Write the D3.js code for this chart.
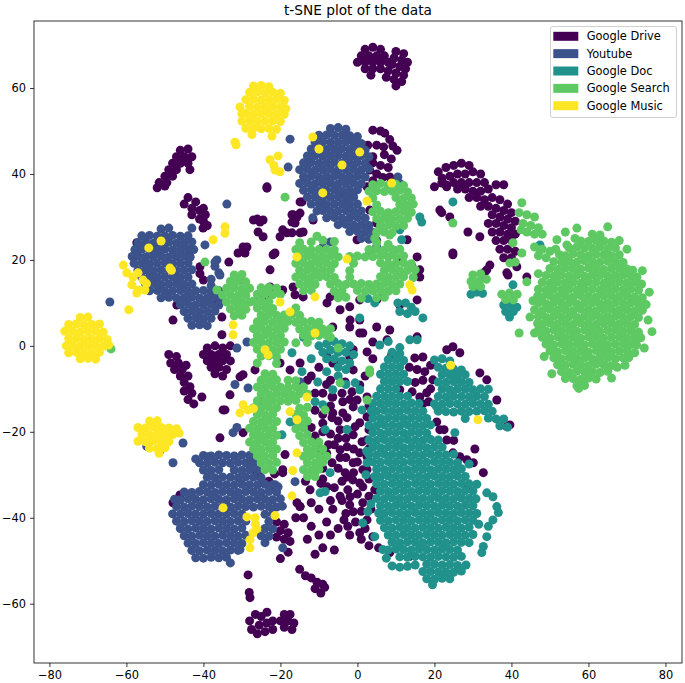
<!DOCTYPE html>
<html>
<head>
<meta charset="utf-8">
<script src="https://cdn.jsdelivr.net/npm/d3@7"></script>
<style>
  body { margin: 0; background: #fff; }
  text { font-family: "DejaVu Sans", sans-serif; }
</style>
</head>
<body>
<div id="chart"></div>
<script>
// Class names and viridis colours, in legend order.
var categories = ["Google Drive", "Youtube", "Google Doc", "Google Search", "Google Music"];
var colors = ["#440154", "#3b528b", "#21918c", "#5ec962", "#fde725"];

var xTicks = [-80, -60, -40, -20, 0, 20, 40, 60, 80];
var yTicks = [-60, -40, -20, 0, 20, 40, 60];

// Points, [x, y] in t-SNE units.
var drivePoints = [
  // two clumps at the top
  [2,69],[4,69.5],[6,69],[1,67.5],[3,67.5],[5,67.5],[7,67.5],[0,66],[2,66],[4,66],[6,66],[8,66],[2,64.5],[4,64.5],[6,64.5],[3.5,63],
  [10,68.5],[12,68],[9.5,67],[11.5,66.5],[13,66],[9,65.5],[11,65],[12.5,64.5],[8,64],[10,63.5],[12,63],[7.5,62.5],[9.5,62],[11.5,61.5],[10,60.5],
  // upper left clumps
  [-46,45.5],[-44,45.8],[-43,44],[-45,44],[-47,44],[-44,42.5],[-46,42.5],[-48,42.5],[-43.5,41],[-47,41],[-49,41],[-50,39.5],[-48,39.5],[-51.5,38],[-49.5,38],[-52,36.8],[-50,37.2],
  [-44,34.5],[-42,33.5],[-45,33],[-43,32],[-41,31.5],[-39.5,30.5],[-41,29.5],[-43,30.5],[-40,29],[-39.5,27.8],
  // right clump
  [21,40.5],[23,41.5],[25,42],[27,42.5],[29,42],[22,39],[24,39.5],[26,40],[28,40],[30,40.5],[32,40],[23,37.5],[25,38],[27,38],[29,38],[31,38],[33,38],
  [26,36.5],[28,36.5],[30,36],[32,36],[34,36.5],[36,37.5],[38,37.5],[29,34.5],[31,34.5],[33,34],[35,34.5],[37,34],[39,33],[32,32.5],[34,32.5],[36,32],[38,31.5],[40,31],
  [35,30.5],[37,30],[39,29.5],[41,29],[34,28.5],[36,28.5],[38,28],[40,27.5],[35,26.5],[37,26.5],[39,26],[41,26],[36,24.5],[38,24.5],[40,24.5],[37,22.5],[39,22.5],[41,22],
  [38,20.5],[40,20.5],[34.4,18.8],[33.1,17.2],[39.1,16.5],[41.4,18.4],[44,16],[24.8,21.2],[28.7,26.5],[31.8,25.4],[21.9,31],[24,30],[20,37],[21.9,37.9],[23.2,37],[33.6,17.7],[38.8,17],
  // column beside the top youtube group
  [4,50.2],[6,50],[7.1,49.5],[8.4,48],[9.2,46.5],[10.3,45.5],[2.7,46.7],[5,46.7],[6.8,46.3],[4,44],[7,44.5],[8.8,43.5],[4,42.6],[6,42],[8,41.5],[3.2,40.9],[5,40],[6.6,39.2],[8.4,39.3],[4,38.4],[2.5,37],
  // upper middle scatter
  [-11.8,45.6],[-12.3,42.8],[-23.5,37],[-23.5,36.7],[-14.9,33.5],[-25.3,28.8],[-17,30.5],[-16.2,28.6],[-14.4,33.5],[-14.9,30.9],[-4,35.8],[-1.1,34.7],
  [-40,32],[-39,28],[-40.1,27.4],[-27,29.3],[-25.8,26.5],[-24.5,25.4],[-28.7,23],[-29.2,21.6],[-21.4,21.6],[-17,28.8],[-15.7,30],[-11.5,29.3],[-14.9,26.3],
  [-24.5,29.3],[-16.7,30.5],[-20.1,25.4],[-17,26.3],[-14.1,26.5],[-21.9,21.2],[-26,29.5],[-19.4,27],[-18.3,26.3],[-31,21.6],[-29.7,23],
  [-0.1,24.7],[5,28.6],[3.2,31.6],[11,20],[14.2,18.4],[16.2,16],[15.5,10.7],[5,10.7],[0.6,10.7],[-2,9.1],[-4.5,8.4],[-7.9,10],[-7.1,11.4],[-14.1,11.4],[-16.2,11.9],
  [-6.4,4.4],[-2,4.4],[0.6,6],[5,4.4],[-22.7,13.7],[-22.7,17.7],[-23.5,11.4],[-25.3,10.7],[-19.4,13],[-16.7,13.7],[12.9,24.7],[15.5,20.7],[16.2,17.7],
  [6.6,12.3],[11,9.5],[15.5,2.1],[8.4,3.7],[1.4,3],[-1.9,6],[21.4,31.6],[24.8,21.6],[32.7,16],
  // left side scatter
  [-43.5,20.7],[-40.9,18.4],[-40,15.3],[-40.9,16.8],[-33.4,19.5],[-30.5,15.3],[-35.2,6.7],[-47.9,6],[-46.9,9.5],[-57.3,24],[-36.2,10],[-35.2,2.6],
  // left clumps near y = 0
  [-39,-0.5],[-37,0],[-35,-0.5],[-33,0],[-40,-2],[-38,-2],[-36,-2],[-34,-2],[-39,-3.5],[-37,-3.5],[-35,-3.5],[-33,-3.5],[-38,-5],[-36,-5],[-34,-5.5],[-37,-6.5],[-35,-7],
  [-49,-2],[-47,-2.5],[-48.5,-4],[-46.5,-4],[-44.5,-4.5],[-47.5,-5.5],[-45.5,-5.5],[-46,-7],[-44,-7],[-45,-8.5],[-43.5,-9.5],[-45,-10.5],[-43,-11],[-44,-12.5],[-42.5,-13.5],
  // centre scatter
  [-30.5,-7.2],[-33.1,-11.4],[-34.9,-14.9],[-29.7,-6.7],[-26.6,-5.6],[-20.1,-4],[-17.5,-5.6],[-14.9,-4],[-6.4,-4],[-1.4,-10.7],[-0.1,-12.6],[-3.8,-15.6],[-0.6,-18.8],
  [2.5,-16.5],[-6.6,-16.7],[-2.7,-19.5],[1.2,-22.3],[-4.5,-24.2],[-6.6,-27.2],[-3.2,-29.5],[-1.2,-31.2],[1.4,-32.8],[-7.9,-32.8],[-12.3,-33.5],[-21.9,-32.8],
  [-24.5,-31.9],[-26.1,-29.5],[-27.1,-27.2],[-18.8,-25.3],[-19.4,-28.8],[-29.7,-20.2],[-6.4,-11.9],[1.4,-28.8],[2.5,-25.8],[-40.4,-11.9],[-34.4,-14.9],[-35.7,-21.4],
  [0.6,3],[4,0.9],[2.5,-1.4],[-1.1,-0.9],[-5.3,-4],[-1.1,-5.6],[-3.2,-8.4],[0.6,-9.1],[-6.6,-11.9],[-3.8,-13],[-1.1,-14.2],[2.5,-11.9],[-6.4,-15.6],[-2.7,-16.7],
  [0.6,-17.9],[-4.5,-19.5],[-1.1,-20.7],[2.5,-21.9],[-2.7,-23.5],[0.6,-24.9],[-4.5,-26],[-1.1,-27.2],[2.5,-28.8],[-2.7,-30.5],[0.6,-31.9],[-1.9,-35.1],[1.4,-36.5],
  [-1.1,-38.6],[2.5,-40.5],[0.6,-43.5],[4,-44.4],[8.4,-48.1],[13.6,-49],[4.5,-33.5],[-4,-36],[-6.4,-38],[-3.5,-40.5],[-5,-42.5],[-2,-44],[-15.7,-36.5],[-14.9,-37.4],
  [-9,-20],[-10,-24],[-8,-9],[-11,-11],[-13,-8],[-9,-16],[-12,-19],[-5,-21.5],[-7.5,-23],[-9,-31],[-11,-29],[-13.5,-31.5],
  [-8,-2],[-10,-5],[-12,-7],[-7,-8],[-9,-11],[-4,-11],[-2,-12.5],[-11,-15],[-7,-14],[-5,-17.5],[-9,-18],[-11,-21],[-7,-20.5],[-3,-21.5],[-6,-23],[-1,-24],
  [-8,-25],[-3,-26],[0,-27],[-5,-28.5],[-9,-28.5],[-1,-29.5],[-4,-31.5],[-6,-33],[-9.5,-32],[-2.5,-33.5],[0,-34.5],[-4.5,-35],[-7,-36],[-2,-37],[1,-38.5],
  [-3,-39],[-0.5,-41],[-2.5,-42],[1,-45],[3,-46.5],[5.5,-47],[2,-42.5],[3,-31],[3,-35],[3.5,-38],[3,-24],[3,-19.5],[3,-14],[2,-7],[4,-3],[-2,-2.5],
  [13.5,-5],[15.5,-5.5],[17.5,-6],[19,-4.5],[15,-8.5],[17,-8],[19,-10],[18.5,-13],[17,-13.5],
  [-14,-40],[-12,-42],[-10,-44],[-13,-45],[-8,-41],[-10,-38],[-12,-36.5],[-7,-44],[-9,-47],[-6,-47.5],[-11,-48.5],[-18,-48],[-20,-49.5],
  [11,-10.2],[14.2,-10.7],[16.2,-11.9],[18,-10.9],[19.6,-7.9],[17,-2.6],[14.9,-2.8],[8.9,-2.1],[7.7,1.4],[23.2,-0.9],[24.8,-0.2],[26.6,-1.6],
  [31.8,-6.3],[33.6,-7.9],[36.2,-12.6],[39.6,-18.4],[38.8,-18.8],[20.6,-17.7],[21.4,-19.5],[23.2,-21.9],[24.8,-24.9],[26.6,-25.8],[28.4,-26.5],[30.1,-27.2],
  [32.7,-29.5],[28.4,-32.8],[22.5,-19.5],[25,-22],[30.5,-24],
  // lower left
  [-47.9,-36.5],[-46.1,-34.7],[-21,-41],[-19,-41.5],[-20,-43],[-18,-43.5],[-21,-44.5],[-19,-45],[-17.5,-45.5],
  [-25.3,-30.5],[-23,-31.5],[-21.5,-29.8],[-19.4,-29.5],[-14.9,-37.4],[-16,-40],
  [-15,-52],[-13.5,-53.5],[-12,-54],[-10.5,-55],[-9,-55.5],[-11,-56.5],[-9.5,-57.5],[-8.5,-56.2],
  [-28.4,-53.3],[-28.1,-57.4],[-27.9,-58.6],
  [-28,-64],[-26.5,-62.5],[-25,-63],[-23.5,-62],[-27.5,-66],[-25.5,-65],[-23.5,-64.5],[-22,-64],[-26,-67],[-24,-66.5],[-22,-66],
  [-19,-62.5],[-17.5,-62.5],[-20,-64],[-18,-64],[-16.5,-64.5],[-19,-65.5],[-17,-66]
];

var youtubePoints = [
  // top group
  [-7,50.6],[-5,50.8],[-3,50.4],
  [-10,49],[-8,49.1],[-6,49],[-4,49.1],[-2,48.9],[0,48.7],
  [-11,47.4],[-9,47.5],[-7,47.3],[-5,47.4],[-3,47.5],[-1,47.3],[1,47.1],
  [-12,45.8],[-10,45.9],[-8,45.7],[-6,45.8],[-4,45.9],[-2,45.7],[0,45.8],[2,45.6],
  [-13,44.2],[-11,44.3],[-9,44.1],[-7,44.2],[-5,44.3],[-3,44.1],[-1,44.2],[1,44.3],[3,44],
  [-14,42.6],[-12,42.7],[-10,42.5],[-8,42.6],[-6,42.7],[-4,42.5],[-2,42.6],[0,42.7],[2,42.5],
  [-15,41],[-13,41.1],[-11,40.9],[-9,41],[-7,41.1],[-5,40.9],[-3,41],[-1,41.1],[1,40.9],[3,41.2],
  [-14,39.4],[-12,39.5],[-10,39.3],[-8,39.4],[-6,39.5],[-4,39.3],[-2,39.4],[0,39.5],[2,39.3],
  [-15,37.8],[-13,37.9],[-11,37.7],[-9,37.8],[-7,37.9],[-5,37.7],[-3,37.8],[-1,37.9],[1,37.7],
  [-14,36.2],[-12,36.3],[-10,36.1],[-8,36.2],[-6,36.3],[-4,36.1],[-2,36.2],[0,36.3],
  [-13,34.6],[-11,34.7],[-9,34.5],[-7,34.6],[-5,34.7],[-3,34.5],[-1,34.6],
  [-12,33],[-10,33.1],[-8,32.9],[-6,33],[-4,33.1],[-2,32.9],[0,33],
  [-10.5,31.4],[-9,31.5],[-7,31.3],[-5,31.4],[-3,31.5],[-1,31.3],[1,31.4],
  [-8,29.8],[-6,29.9],[-4,29.7],[-2,29.8],[0,29.9],[2,29.7],
  [-5,28.2],[-3,28.3],[-1,28.1],[1,28.2],[3,28],
  [-2,26.6],[0,26.7],[2,26.5],[4,26.4],
  [1,25],[3,24.8],[5,24.6],
  [-18,41.6],[-17.5,48.1],[-11.6,29.8],[10.5,39.3],[11,37.8],[5,23],[3.2,21.6],[9.2,22.3],[-9,23],[-7,24.2],[2.5,27],
  // left group
  [-51,27.2],[-49,27.4],
  [-56,25.6],[-54,25.7],[-52,25.5],[-50,25.6],[-48,25.7],[-46,25.5],[-44,25.6],
  [-57,24],[-55,24.1],[-53,23.9],[-51,24],[-49,24.1],[-47,23.9],[-45,24],[-43,24.2],
  [-57.8,22.4],[-56,22.5],[-54,22.3],[-52,22.4],[-50,22.5],[-48,22.3],[-46,22.4],[-44,22.5],[-42.5,22.4],
  [-58.5,20.8],[-57,20.9],[-55,20.7],[-53,20.8],[-51,20.9],[-49,20.7],[-47,20.8],[-45,20.9],[-43.5,20.6],[-36.5,20],
  [-58,19.2],[-56,19.3],[-54,19.1],[-52,19.2],[-50,19.3],[-48,19.1],[-46,19.2],[-44,19.3],[-37,18.5],
  [-57,17.6],[-55,17.7],[-53,17.5],[-51,17.6],[-49,17.7],[-47,17.5],[-45,17.6],[-43,17.7],[-36,17],
  [-56,16],[-54,16.1],[-52,15.9],[-50,16],[-48,16.1],[-46,15.9],[-44,16],[-38,15.5],
  [-55,14.4],[-53,14.5],[-51,14.3],[-49,14.4],[-47,14.5],[-45,14.3],[-43,14.4],[-38,14],
  [-54,12.8],[-52,12.9],[-50,12.7],[-48,12.8],[-46,12.9],[-44,12.7],[-42,12.8],[-40,12.9],[-38,12.7],[-36,12.8],
  [-51,11.2],[-49,11.3],[-47,11.1],[-45,11.2],[-43,11.3],[-41,11.1],[-39,11.2],[-37,11.3],[-35.5,11],
  [-46,9.6],[-44,9.7],[-42,9.5],[-40,9.6],[-38,9.7],[-36,9.5],
  [-45,8],[-43,8.1],[-41,7.9],[-39,8],[-37,8.1],
  [-44,6.4],[-42,6.5],[-40,6.3],[-38,6.4],
  [-43,4.8],[-41,4.9],[-39,4.7],
  [-64.3,10.2],[-33.9,33],[-39.6,23.5],[-37,19.5],[-35.7,16.5],[-28.7,0.9],[-31.3,-0.5],[-31.8,-9],[-28.4,-9.8],[-14.9,-8.4],[-25.3,-13],[-14.9,-9.8],
  [-32.3,-20.2],[-31.3,-19],[-38.8,-25.8],[-16.2,-31.6],[-21.4,-32.3],[-43,27.4],[-9.7,34],
  // lower left group
  [-40,-25.5],[-38,-25.6],[-36,-25.4],[-34,-25.5],[-32,-25.6],[-30,-25.4],[-28,-25.5],
  [-41,-27.2],[-39,-27.3],[-37,-27.1],[-35,-27.2],[-33,-27.3],[-31,-27.1],[-29,-27.2],[-27,-27.3],
  [-40,-28.9],[-38,-29],[-36,-28.8],[-32,-28.9],[-30,-29],[-28,-28.8],[-26,-28.9],
  [-39,-30.6],[-37,-30.7],[-35,-30.5],[-33,-30.6],[-31,-30.7],[-29,-30.5],[-27,-30.6],[-25,-30.7],
  [-40,-32.3],[-38,-32.4],[-36,-32.2],[-34,-32.3],[-32,-32.4],[-30,-32.2],[-28,-32.3],[-26,-32.4],[-24,-32.2],[-22,-32.3],
  [-45,-34],[-43,-34.1],[-41,-33.9],[-39,-34],[-37,-34.1],[-35,-33.9],[-33,-34],[-31,-34.1],[-29,-33.9],[-27,-34],[-25,-34.1],[-23,-33.9],[-21,-34],
  [-47.5,-35.7],[-46,-35.8],[-44,-35.6],[-42,-35.7],[-40,-35.8],[-38,-35.6],[-36,-35.7],[-34,-35.8],[-32,-35.6],[-30,-35.7],[-28,-35.8],[-26,-35.6],[-24,-35.7],[-22,-35.8],[-20,-35.6],
  [-47,-37.4],[-45,-37.5],[-43,-37.3],[-41,-37.4],[-39,-37.5],[-37,-37.3],[-35,-37.4],[-33,-37.5],[-31,-37.3],[-29,-37.4],[-27,-37.5],[-25,-37.3],[-23,-37.4],[-21,-37.5],[-19.5,-37.3],
  [-48,-39.1],[-46,-39.2],[-44,-39],[-42,-39.1],[-40,-39.2],[-38,-39],[-36,-39.1],[-34,-39.2],[-32,-39],[-30,-39.1],[-24,-39.2],[-22,-39],
  [-47,-40.8],[-45,-40.9],[-43,-40.7],[-41,-40.8],[-39,-40.9],[-37,-40.7],[-35,-40.8],[-33,-40.9],[-31,-40.7],[-29,-40.8],[-23,-40.9],
  [-46,-42.5],[-44,-42.6],[-42,-42.4],[-40,-42.5],[-38,-42.6],[-36,-42.4],[-34,-42.5],[-32,-42.6],[-30,-42.4],[-24,-42.5],[-22,-42.6],
  [-45,-44.2],[-43,-44.3],[-41,-44.1],[-39,-44.2],[-37,-44.3],[-35,-44.1],[-33,-44.2],[-31,-44.3],[-29,-44.1],[-25,-44.2],[-23,-44.3],
  [-44,-45.9],[-42,-46],[-40,-45.8],[-38,-45.9],[-36,-46],[-34,-45.8],[-32,-45.9],[-30,-46],[-24,-45.8],
  [-43,-47.6],[-41,-47.7],[-39,-47.5],[-37,-47.6],[-35,-47.7],[-33,-47.5],[-31,-47.6],
  [-42,-49.3],[-40,-49.4],[-38,-49.2],[-36,-49.3],[-34,-49.2],[-33,-50.5],
  [-42,-26.3],[-47.9,-27.2],[-51.3,-24.4],[-54.7,-23.4],[-45.3,-22.6],[-20.6,-32.8],[-19.4,-47],[-30.5,-47.4]
];

var docPoints = [
  // centre group near the origin
  [-10,0],[-8,0.5],[-6,1],[-4,0.5],[-2,0],[-9,-1.5],[-7,-1],[-5,-1.5],[-3,-1.5],[-1,-2],[-8,-3],[-6,-3],[-4,-3.5],[-2,-4],[-5,-5],[-3,-5.5],
  // thin column above the big group
  [5.8,0.2],[8,1],[11,-0.4],[13.6,1.4],[15.5,1.4],
  [9,-1.5],[11,-1.8],[8,-3.2],[10,-3.2],[12,-3.4],[7,-4.9],[9,-4.9],[11,-4.9],[6,-6.6],[8,-6.6],[10,-6.6],[12,-6.6],
  [7,-8.3],[9,-8.3],[11,-8.3],[13,-8.3],[6,-10],[8,-10],[10,-10],[5,-11.7],[7,-11.7],[9,-11.7],[11,-11.7],[13,-11.7],
  // big group
  [4,-13.4],[6,-13.4],[8,-13.3],[10,-13.4],[12,-13.5],[14,-13.3],[16,-13.4],
  [3.6,-15.1],[5,-15.2],[7,-15],[9,-15.1],[11,-15.2],[13,-15],[15,-15.1],[17,-15.2],
  [4,-16.8],[6,-16.9],[8,-16.7],[10,-16.8],[12,-16.9],[14,-16.7],[16,-16.8],[18,-16.9],
  [3,-18.5],[5,-18.6],[7,-18.4],[9,-18.5],[11,-18.6],[13,-18.4],[15,-18.5],[17,-18.6],[19,-18.4],
  [4,-20.2],[6,-20.3],[8,-20.1],[10,-20.2],[12,-20.3],[14,-20.1],[16,-20.2],[18,-20.3],
  [3,-21.9],[5,-22],[7,-21.8],[9,-21.9],[11,-22],[13,-21.8],[15,-21.9],[17,-22],[19,-21.8],[21,-21.9],
  [4,-23.6],[6,-23.7],[8,-23.5],[10,-23.6],[12,-23.7],[14,-23.5],[16,-23.6],[18,-23.7],[20,-23.5],[22,-23.6],
  [3,-25.3],[5,-25.4],[7,-25.2],[9,-25.3],[11,-25.4],[13,-25.2],[15,-25.3],[17,-25.4],[19,-25.2],[21,-25.3],[23,-25.4],[25,-25.2],
  [4,-27],[6,-27.1],[8,-26.9],[10,-27],[12,-27.1],[14,-26.9],[16,-27],[18,-27.1],[20,-26.9],[22,-27],[24,-27.1],[26,-27.2],
  [5,-28.7],[7,-28.8],[9,-28.6],[11,-28.7],[13,-28.8],[15,-28.6],[17,-28.7],[19,-28.8],[21,-28.6],[23,-28.7],[25,-28.8],[27,-28.6],
  [4.5,-30.4],[6,-30.5],[8,-30.3],[10,-30.4],[12,-30.5],[14,-30.3],[16,-30.4],[18,-30.5],[20,-30.3],[22,-30.4],[24,-30.5],[26,-30.3],[28,-30.4],
  [5,-32.1],[7,-32.2],[9,-32],[11,-32.1],[13,-32.2],[15,-32],[17,-32.1],[19,-32.2],[21,-32],[23,-32.1],[25,-32.2],[27,-32],[29,-32.1],[31,-32.2],
  [6,-33.8],[8,-33.9],[10,-33.7],[12,-33.8],[14,-33.9],[16,-33.7],[18,-33.8],[20,-33.9],[22,-33.7],[24,-33.8],[26,-33.9],[28,-33.7],[30,-33.8],[33.6,-34.2],
  [5,-35.5],[7,-35.6],[9,-35.4],[11,-35.5],[13,-35.6],[15,-35.4],[17,-35.5],[19,-35.6],[21,-35.4],[23,-35.5],[25,-35.6],[27,-35.4],[29,-35.5],[35.2,-35.1],
  [6,-37.2],[8,-37.3],[10,-37.1],[12,-37.2],[14,-37.3],[16,-37.1],[18,-37.2],[20,-37.3],[22,-37.1],[24,-37.2],[26,-37.3],[28,-37.1],[30,-37.2],[36.2,-37.4],
  [5.5,-38.9],[7,-39],[9,-38.8],[11,-38.9],[13,-39],[15,-38.8],[17,-38.9],[19,-39],[21,-38.8],[23,-38.9],[25,-39],[27,-38.8],[29,-38.9],[31,-39],[36.6,-38.8],
  [6,-40.6],[8,-40.7],[10,-40.5],[12,-40.6],[14,-40.7],[16,-40.5],[18,-40.6],[20,-40.7],[22,-40.5],[24,-40.6],[26,-40.7],[28,-40.5],[30,-40.6],[35.2,-40.5],
  [7,-42.3],[9,-42.4],[11,-42.2],[13,-42.3],[15,-42.4],[17,-42.2],[19,-42.3],[21,-42.4],[23,-42.2],[25,-42.3],[27,-42.4],[29,-42.2],[34,-42],
  [8,-44],[10,-44.1],[12,-43.9],[14,-44],[16,-44.1],[18,-43.9],[20,-44],[22,-44.1],[24,-43.9],[26,-44],[28,-44.1],[30,-43.9],[33.6,-44.4],
  [9,-45.7],[11,-45.8],[13,-45.6],[15,-45.7],[17,-45.8],[19,-45.6],[21,-45.7],[23,-45.8],[25,-45.6],[27,-45.7],[29,-45.8],[32.7,-46.7],
  [6.6,-47.4],[8,-47.5],[10,-47.3],[12,-47.4],[14,-47.5],[16,-47.3],[18,-47.4],[20,-47.5],[22,-47.3],[24,-47.4],[26,-47.5],[32.3,-48.1],
  [11,-49.1],[13,-49.2],[15,-49],[17,-49.1],[19,-49.2],[21,-49],[23,-49.1],[25,-49.2],[27,-49],
  [9,-51.2],[11,-51.5],[13,-51.3],[18,-50.8],[20,-50.8],[22,-51],[24,-50.9],[26,-51.1],
  [17,-52.5],[19,-52.5],[21,-52.6],[23,-52.6],[25,-52.7],[27,-52.4],
  [18,-54.2],[20,-54.3],[22,-54.1],[24,-54.2],[19.5,-55.6],
  [2.4,-24.5],[2.2,-30],[3.5,-36.8],[29,-27.5],[30.8,-35.6],[31.5,-41.5],[15,-51],[28.2,-51],[7.5,-49.4],
  // group to the right
  [20,-3.3],[22,-3],[24,-3.5],[21,-5],[23,-5.2],[25,-5.4],[27,-5.6],[22,-6.7],[24,-6.8],[26,-6.9],[28,-6.7],
  [21,-8.4],[23,-8.5],[25,-8.3],[27,-8.4],[29,-8.5],[22,-10.1],[24,-10.2],[26,-10],[28,-10.1],[30,-10.2],[32,-10],[34,-10.1],
  [21,-11.8],[23,-11.9],[25,-11.7],[27,-11.8],[29,-11.9],[31,-11.7],[33,-11.8],
  [20,-13.5],[22,-13.6],[24,-13.4],[26,-13.5],[28,-13.6],[30,-13.4],[32,-13.5],[34,-13.6],
  [21,-15.2],[23,-15.3],[25,-15.4],[27,-15.2],[29,-15.3],[31,-15.2],[33,-15.1],[35,-15.2],
  [28,-16.9],[34,-16.8],[36,-17],[38,-17],[37,-18.6],[39,-18.9],[25.3,-20.2],[20.6,-14.2],
  // scattered
  [-14.4,-6],[-10.3,-8.4],[-6.4,-10.2],[-11,-13],[-9,-13.7],[-8.4,-19.5],[-16.2,-17.9],[1.2,-14.9],[-0.6,-8.6],[2.5,-27.2],[-19.6,-20.7],
  [-7.1,-29.5],[-8.4,-33.9],[-9.7,-34.2],[-10.5,-28],[-17.5,-17.7],[2.7,-38.6],[1.4,-41.2],[4.5,-44.4],[0.6,-10.2],[-2.7,-19.5],
  [24.8,33.5],[16.7,28.8],[11,27],[11.5,24.7],[16.2,30],[10.5,10],[12.5,10],[14,9],[11,8],[13,7.5],[15,8],[2.7,11],[4.5,10],[0.6,6.5],[17,6.5],
  [40.4,14.2],[47.4,23.5],[-19.4,6.7],[-17,-1.6],[-12,-3],[-14,2],[-5,-7],[-3,-9],[-8,-6],
  [31,12.5],[29.5,12],[32.5,12.2],[38,9.5],[40,9.5],[38.5,8],[40.5,8],[39.5,6.7],[41.4,9]
];

var searchPoints = [
  // big group on the right
  [65,27.7],[61,26],[63,25.8],
  [58,24.4],[60,24.3],[62,24.5],[64,24.4],[66,24.1],
  [55,22.8],[57,23],[59,22.8],[61,22.7],[63,23],[65,22.6],[67,22.8],
  [52.5,21.2],[54,21],[56,21.4],[58,21.2],[60,21],[62,21.3],[64,21.2],[66,21],[68,21.2],
  [51,19.6],[53,19.5],[55,19.7],[57,19.5],[59,19.8],[61,19.6],[63,19.5],[65,19.7],[67,19.6],[69,19.4],
  [50,18],[52,17.8],[54,18.1],[56,18],[58,17.9],[60,18.1],[62,18],[64,17.8],[66,18],[68,18.1],[70,17.9],[71.5,17.6],
  [49,16.4],[51,16.2],[53,16.5],[55,16.3],[57,16.4],[59,16.2],[61,16.5],[63,16.4],[65,16.2],[67,16.4],[69,16.5],[71,16.3],[72.6,16],
  [48,14.8],[50,14.6],[52,14.9],[54,14.7],[56,14.8],[58,14.6],[60,14.9],[62,14.8],[64,14.6],[66,14.8],[68,14.9],[70,14.7],[72,14.8],[73.8,14.4],
  [47,13.2],[49,13],[51,13.3],[53,13.1],[55,13.2],[57,13],[59,13.3],[61,13.2],[63,13],[65,13.2],[67,13.3],[69,13.1],[71,13.2],[73,13],[75.8,12.5],
  [46.8,11.6],[48,11.4],[50,11.7],[52,11.5],[54,11.6],[56,11.4],[58,11.7],[60,11.6],[62,11.4],[64,11.6],[66,11.7],[68,11.5],[70,11.6],[72,11.4],[74,11.2],
  [47,10],[49,9.8],[51,10.1],[53,9.9],[55,10],[57,9.8],[59,10.1],[61,10],[63,9.8],[65,10],[67,10.1],[69,9.9],[71,10],[73,9.8],[75,9.6],
  [46,8.4],[48,8.2],[50,8.5],[52,8.3],[54,8.4],[56,8.2],[58,8.5],[60,8.4],[62,8.2],[64,8.4],[66,8.5],[68,8.3],[70,8.4],[72,8.2],[74,8.3],
  [47,6.8],[49,6.6],[51,6.9],[53,6.7],[55,6.8],[57,6.6],[59,6.9],[61,6.8],[63,6.6],[65,6.8],[67,6.9],[69,6.7],[71,6.8],[73,6.6],
  [46.8,5.2],[48,5],[50,5.3],[52,5.1],[54,5.2],[56,5],[58,5.3],[60,5.2],[62,5],[64,5.2],[66,5.3],[68,5.1],[70,5.2],[72,5],
  [47,3.6],[49,3.4],[51,3.7],[53,3.5],[55,3.6],[57,3.4],[59,3.7],[61,3.6],[63,3.4],[65,3.6],[67,3.7],[69,3.5],[71,3.6],[73,3.2],[76.5,3.3],
  [48,2],[50,1.8],[52,2.1],[54,1.9],[56,2],[58,1.8],[60,2.1],[62,2],[64,1.8],[66,2],[68,2.1],[70,1.9],[72,2],[73.6,1.9],
  [49,0.4],[51,0.2],[53,0.5],[55,0.3],[57,0.4],[59,0.2],[61,0.5],[63,0.4],[65,0.2],[67,0.4],[69,0.5],[71,0.3],[72.5,0.2],
  [50,-1.2],[52,-1.4],[54,-1.1],[56,-1.3],[58,-1.2],[60,-1.4],[62,-1.1],[64,-1.2],[66,-1.4],[68,-1.2],[70,-1.1],[72,-1.6],
  [51,-2.8],[53,-3],[55,-2.7],[57,-2.9],[59,-2.8],[61,-3],[63,-2.7],[65,-2.8],[67,-3],[69,-2.8],[70.5,-2.7],
  [52,-4.4],[54,-4.5],[56,-4.3],[58,-4.4],[60,-4.6],[62,-4.3],[64,-4.4],[66,-4.6],[67.5,-5],
  [53,-6],[55,-6.2],[57,-5.9],[59,-6.1],[61,-6],[63,-6.2],[65,-5.9],
  [54,-7.6],[56,-7.6],[58,-7.8],[60,-7.5],[62,-7.7],
  [57,-9.3],[59,-9.2],[57.5,-9.9],
  [50.5,-6.5],[48.5,-2.5],[69.5,-4.5],[66,-7.5],[74.5,-0.5],[75.5,6],[74,17.5],[70,22.5],[68,24.5],[56.5,25],[51.5,22.5],[47,16.8],[45.6,10.5],[46,3],
  // bridge towards the purple clump
  [42.7,33.3],[24.8,28.6],[54,26.5],[57,27.4],[44.8,6.7],[42,3],[44,14.9],[40.4,24],[41,19.5],[42.7,21.6],[39.6,19.3],[47.4,22.3],[51.8,24.7],[54.4,23.5],
  [42,31],[44,30.5],[46,30],[43,28.5],[45,28],[47,27.5],[44,26.5],[46,26],[48,26],[42.5,27],[46,23],[48,22.5],[47,21],[49,20.5],[50,22],
  [30,16.5],[32,16.8],[29.5,15],[31.5,15],[33.5,15.5],[30,13.8],[32,13.8],
  [37.5,12],[39.5,12.3],[41.5,12],[38.5,10.8],[40.5,10.7],
  // cluster right of the top youtube group
  [4,37.5],[6,37.8],[8,37.4],[10,37.6],[12,37.3],[3,36],[5,36.1],[7,35.9],[9,36],[11,36.2],[13,35.8],
  [4,34.4],[10,34.5],[12,34.3],[14,34.4],[5,32.8],[11,32.9],[13,32.7],[14.5,33],
  [4,31.2],[6,31.3],[8,31],[10,31.2],[12,31.3],[14,31.1],[5,29.6],[7,29.7],[9,29.5],[11,29.6],[13,29.7],
  [6,28],[8,28.1],[10,27.9],[12,28],[5,26.4],[7,26.5],[9,26.3],[4.5,25],[8.4,25.8],
  // central band
  [-15,24],[-12,24.2],[-9,24.6],[-6,24.3],[5,24],[8,23.6],[-10.5,25.5],
  [-16,22.4],[-14,22.5],[-12,22.3],[-10,22.4],[-8,22.5],[-6,22.3],[3,22.4],[5,22.5],[7,22.3],[9,22.4],[11,22.5],
  [-15,20.8],[-13,20.9],[-11,20.7],[-9,20.8],[-7,20.9],[-5,20.7],[-2,20.8],[0,20.9],[2,20.7],[4,20.8],[6,20.9],[8,20.7],[10,20.8],[12,20.9],
  [-16,19.2],[-14,19.3],[-12,19.1],[-10,19.2],[-8,19.3],[-6,19.1],[-1,19.2],[6,19.3],[8,19.1],[10,19.2],[12,19.3],[14,19.1],
  [-15,17.6],[-13,17.7],[-11,17.5],[-9,17.6],[-7,17.7],[-2,17.5],[7,17.6],[9,17.7],[11,17.5],[13,17.6],[15,17.7],
  [-16,16],[-14,16.1],[-12,15.9],[-10,16],[-8,16.1],[-6,15.9],[-2,16],[6,16.1],[8,15.9],[10,16],[12,16.1],[14.5,15.9],
  [-15,14.4],[-13,14.5],[-11,14.3],[-7,14.4],[-5,14.5],[-3,14.3],[-1,14.4],[1,14.5],[3,14.3],[5,14.4],[7,14.5],[9,14.3],[11,14.4],
  [-14,12.8],[-12,12.9],[-6,12.7],[-4,12.8],[0,12.9],[2,12.7],[4,12.8],[6,12.9],[8,12.7],[10,12.8],
  [-5,11.2],[-3,11.3],[1,11.1],[5,11.2],[7,11.3],
  // left groups
  [-32,16.5],[-30,16.6],[-33,15],[-31,15.1],[-29,14.9],[-34,13.4],[-32,13.5],[-30,13.3],[-28,13.4],
  [-35,11.8],[-33,11.9],[-31,11.7],[-29,11.8],[-34,10.2],[-32,10.3],[-30,10.1],[-28,10.2],[-33,8.6],[-31,8.7],[-29,8.5],[-32,7],[-30,7.1],
  [-64,-0.7],[-39.6,19.5],[-18.8,34.6],
  // column left of centre
  [-25,13.5],[-23,13.6],[-21,13.4],[-26,12],[-24,12.1],[-22,11.9],[-20,12],[-27,10.4],[-25,10.5],[-23,10.3],
  [-26,8.8],[-24,8.9],[-22,8.7],[-16,8.8],[-25,7.2],[-23,7.3],[-21,7.1],[-19,7.2],[-17,7.3],[-15,7.1],
  [-26,5.6],[-24,5.7],[-22,5.5],[-20,5.6],[-18,5.7],[-16,5.5],[-14,5.6],[-12,5.7],[-10,5.5],
  [-27,4],[-25,4.1],[-23,3.9],[-21,4],[-19,4.1],[-15,3.9],[-13,4],[-11,4.1],[-9,3.9],[-7,4],
  [-26,2.4],[-24,2.5],[-22,2.3],[-20,2.4],[-14,2.5],[-12,2.3],[-10,2.4],[-8,2.5],
  [-27,0.8],[-25,0.9],[-23,0.7],[-21,0.8],[-19,0.9],[-16,0.7],[-13,0.8],
  [-26,-0.8],[-24,-0.7],[-22,-0.9],[-20,-0.8],[-25,-2.4],[-23,-2.3],[-21,-2.5],[-26,-4],[-21,-4.1],
  // lower column
  [-24,-6.5],[-22,-6.6],[-25,-8],[-23,-8.1],[-21,-7.9],[-18,-8],[-16,-8.1],
  [-26,-9.6],[-24,-9.7],[-22,-9.5],[-20,-9.6],[-18,-9.7],[-16,-9.5],[-14,-9.6],
  [-25,-11.2],[-23,-11.3],[-21,-11.1],[-19,-11.2],[-17,-11.3],[-15,-11.1],[-13,-11.2],
  [-26,-12.8],[-24,-12.9],[-22,-12.7],[-20,-12.8],[-18,-12.9],[-16,-12.7],
  [-27,-14.4],[-25,-14.5],[-23,-14.3],[-21,-14.4],[-15,-14.5],[-13,-14.3],
  [-26,-16],[-24,-16.1],[-22,-15.9],[-16,-16],[-14,-16.1],
  [-27,-17.6],[-25,-17.7],[-23,-17.5],[-21,-17.6],[-15,-17.7],[-13,-17.5],
  [-28,-19.2],[-26,-19.3],[-24,-19.1],[-22,-19.2],[-16,-19.3],[-14,-19.1],
  [-27,-20.8],[-25,-20.9],[-23,-20.7],[-21,-20.8],[-15,-20.9],[-13,-20.7],
  [-28,-22.4],[-26,-22.5],[-24,-22.3],[-22,-22.4],[-14,-22.5],[-12,-22.3],[-10,-22.4],
  [-27,-24],[-25,-24.1],[-23,-23.9],[-21,-24],[-13,-24.1],[-11,-23.9],[-9,-24],
  [-26,-25.6],[-24,-25.7],[-22,-25.5],[-14,-25.7],[-12,-25.5],[-10,-25.6],[-8,-25.7],
  [-25,-27.2],[-23,-27.3],[-21,-27.1],[-13,-27.2],[-11,-27.3],[-9,-27.1],
  [-24,-28.8],[-22,-28.9],[-14,-28.8],[-12,-28.9],[-10,-28.7],[-13,-30.4],[-11,-30.4],
  // scattered
  [-9.7,3.7],[-7,2],[-5,-0.5],[3.2,-5.6],[2.5,-12.6],[3.2,-6.3],[-4.5,-8.6],[-9,-26.5],[-8.4,-14.9],[-36.5,13],[-25,-21]
];

var musicPoints = [
  // group near (-70, 2)
  [-72,6.6],[-70,6.7],
  [-75,5],[-73,5.1],[-71,4.9],[-69,5],[-67,5.1],
  [-76,3.4],[-74,3.4],[-72,3.2],[-70,3.3],[-68,3.4],[-66,3.2],
  [-75,1.7],[-73,1.7],[-71,1.5],[-69,1.6],[-67,1.7],[-65,1.5],
  [-75.6,0],[-74,0.1],[-72,-0.1],[-70,0],[-68,0.1],[-66,-0.1],[-64.6,0.2],
  [-75,-1.6],[-73,-1.5],[-71,-1.7],[-69,-1.6],[-67,-1.5],[-72,-3],[-70,-2.9],[-68,-3.1],
  // group near (-25, 55)
  [-27,60.5],[-25,60.6],[-23,60.3],
  [-28,59],[-26,59.1],[-24,58.9],[-22,59],[-20,58.8],
  [-29,57.3],[-27,57.4],[-25,57.2],[-23,57.3],[-21,57.4],[-19,57.1],
  [-30.5,55.6],[-28,55.7],[-26,55.5],[-24,55.6],[-22,55.7],[-20,55.5],[-18.6,55.2],
  [-30,54],[-29,54.1],[-27,53.9],[-25,54],[-23,54.1],[-21,53.9],[-19,53.9],
  [-30,52.3],[-28,52.4],[-26,52.2],[-24,52.3],[-22,52.4],[-20,52.2],
  [-29,50.6],[-27,50.7],[-25,50.5],[-23,50.6],[-21,50.4],
  [-27.4,49.2],[-22.2,48.8],
  // group near (-52, -21)
  [-54,-17.5],[-52,-17.4],
  [-57,-19],[-55,-19.1],[-53,-18.9],[-51,-19],[-49,-19.1],[-47,-19.3],
  [-56,-20.6],[-54,-20.7],[-52,-20.5],[-50,-20.6],[-48,-20.7],[-46.3,-20.3],
  [-57,-22.2],[-55,-22.3],[-53,-22.1],[-51,-22.2],[-49,-22.3],
  [-54,-23.8],[-52,-23.9],[-50,-23.7],[-51.5,-25],
  // small group and singles
  [-60.8,18.8],[-59.9,17],[-58.3,16],[-57,17],[-55.7,15.3],[-57,13],[-55.2,13],[-57.3,12.3],[-54.8,14.5],[-58.6,14.2],[-59.4,8.4],
  [-54.2,22.8],[-51,24.4],[-48.7,18.1],[-48.3,17.6],
  [-31.8,47.4],[-31.5,46.8],[-22.7,43.3],[-20.6,44.2],[-21.4,40.9],[-20.1,40.5],[-21.7,42],[-11.6,48.6],[-10,45.8],[0.6,45.1],[-4,42.1],[-9,35.6],
  [2.5,33.7],[8.9,37.9],[-2.7,20.2],[13.6,14.2],[14.2,13],[-37.5,24.7],[-34.4,27.7],[-34.4,26.2],[-15.7,20.7],[-20.1,10.2],[-17.5,7.9],[-11,11.4],
  [-11,3],[-32.3,4.9],[-32.3,2.6],[-24,-0.9],[-23.2,-2.1],[24.2,-4.5],[-13.1,-11.9],[-29.7,-13.7],[-28.4,-14.9],[-30.5,-15.6],[-27,-14.6],
  [-17.5,-15.3],[-15.7,-17.2],[-15.7,-24.9],[-16.8,-29],[-17,-34.9],[-34.9,-37.7],[-28.7,-39.8],[-26.6,-40],[-26.5,-41.5],[-26.1,-42.6],
  [-27.1,-43.5],[-27.9,-45.1],[-27.9,-47],[-21.4,-39.5],[31.3,-17.2]
];

var series = [drivePoints, youtubePoints, docPoints, searchPoints, musicPoints];

var width = 685, height = 683;
var plot = { left: 34, right: 682, top: 21, bottom: 663 };

var svg = d3.select("#chart")
  .append("svg")
    .attr("width", width)
    .attr("height", height)
    .style("background", "#fff");

var x = d3.scaleLinear().domain([-84, 84.3]).range([plot.left, plot.right]);
var y = d3.scaleLinear().domain([-73.8, 75.6]).range([plot.bottom, plot.top]);

// matplotlib style minus sign
var fmt = function(d) { return d < 0 ? "\u2212" + Math.abs(d) : String(d); };

// Scatter, one layer per class.
series.forEach(function(pts, i) {
  svg.append("g")
    .selectAll("circle")
    .data(pts)
    .enter()
    .append("circle")
      .attr("cx", function(d) { return x(d[0]); })
      .attr("cy", function(d) { return y(d[1]); })
      .attr("r", 4.5)
      .attr("fill", colors[i]);
});

// Axes.
var xAxis = svg.append("g")
  .attr("transform", "translate(0," + plot.bottom + ")")
  .call(d3.axisBottom(x).tickValues(xTicks).tickSize(4).tickPadding(4).tickFormat(fmt));
var yAxis = svg.append("g")
  .attr("transform", "translate(" + plot.left + ",0)")
  .call(d3.axisLeft(y).tickValues(yTicks).tickSize(4).tickPadding(4).tickFormat(fmt));
[xAxis, yAxis].forEach(function(a) {
  a.select(".domain").remove();
  a.selectAll("text").style("font-size", "11.4px").style("fill", "#000");
  a.selectAll("line").attr("stroke", "#000").attr("stroke-width", 0.8);
});

// Frame.
svg.append("rect")
  .attr("x", plot.left)
  .attr("y", plot.top)
  .attr("width", plot.right - plot.left)
  .attr("height", plot.bottom - plot.top)
  .attr("fill", "none")
  .attr("stroke", "#000")
  .attr("stroke-width", 0.8);

// Title.
svg.append("text")
  .attr("x", (plot.left + plot.right) / 2)
  .attr("y", 15)
  .attr("text-anchor", "middle")
  .style("font-size", "13.7px")
  .style("fill", "#000")
  .text("t-SNE plot of the data");

// Legend.
var legend = svg.append("g").attr("transform", "translate(550,26)");
legend.append("rect")
  .attr("x", 0.5).attr("y", 0.5)
  .attr("width", 126).attr("height", 91)
  .attr("rx", 2.5)
  .attr("fill", "#fff").attr("fill-opacity", 0.8)
  .attr("stroke", "#d0d0d0");
categories.forEach(function(name, i) {
  var g = legend.append("g").attr("transform", "translate(0," + (10.3 + i * 17.35) + ")");
  g.append("rect")
    .attr("x", 3.3).attr("y", -4.5)
    .attr("width", 25).attr("height", 9)
    .attr("fill", colors[i]);
  g.append("text")
    .attr("x", 36.7)
    .attr("dy", "0.35em")
    .style("font-size", "11.4px")
    .style("fill", "#000")
    .text(name);
});
</script>
</body>
</html>
